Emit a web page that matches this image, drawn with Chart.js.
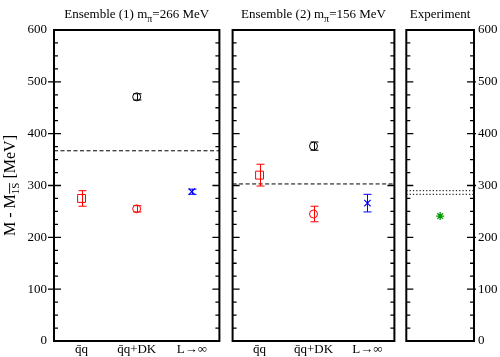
<!DOCTYPE html>
<html><head><meta charset="utf-8">
<script src="https://cdn.jsdelivr.net/npm/chart.js@4"></script>
<style>
html,body{margin:0;padding:0;background:#fff;}
#wrap{position:relative;width:500px;height:357px;overflow:hidden;}
.pane{position:absolute;top:0;}
canvas{display:block;}
</style></head><body>
<div id="wrap">
<div class="pane" style="left:0"><canvas id="c1" width="226" height="357"></canvas></div>
<div class="pane" style="left:226px"><canvas id="c2" width="175" height="357"></canvas></div>
<div class="pane" style="left:401px"><canvas id="c3" width="99" height="357"></canvas></div>
</div>
<script>
// ---------- data ----------
const categories = ['q\u0304q', 'q\u0304q+DK', 'L\u2192\u221e'];
const yTickValues = [0, 100, 200, 300, 400, 500, 600];
const ens1Title = ['Ensemble (1) m', '\u03c0', '=266 MeV'];
const ens2Title = ['Ensemble (2) m', '\u03c0', '=156 MeV'];
const expTitle = ['Experiment'];
const yTitle = ['M - M', '1S', ' [MeV]'];

// Ensemble (1), MeV, per category
const ens1Square    = [275, null, null];
const ens1SquareErr = [15, null, null];
const ens1Upper     = [null, 471, null];
const ens1UpperErr  = [null, 6, null];
const ens1Lower     = [null, 255, null];
const ens1LowerErr  = [null, 6, null];
const ens1Inf       = [null, null, 288];
const ens1InfErr    = [null, null, 5];
const ens1Threshold = 367;

// Ensemble (2)
const ens2Square    = [320, null, null];
const ens2SquareErr = [21, null, null];
const ens2Upper     = [null, 376, null];
const ens2UpperErr  = [null, 8, null];
const ens2Lower     = [null, 245, null];
const ens2LowerErr  = [null, 15, null];
const ens2Inf       = [null, null, 266];
const ens2InfErr    = [null, null, 17];
const ens2Threshold = 303;

// Experiment
const expValue      = [241];
const expThresholds = [290, 283];

// ---------- helpers ----------
const FONT = "'Liberation Serif', 'DejaVu Serif', serif";
Chart.defaults.font.family = FONT;
Chart.defaults.font.size = 13;
Chart.defaults.color = '#000';

function pts(vals, errs) {
  return vals.map((v, i) => v == null ? null : {x: i, y: v, e: errs ? errs[i] : 0}).filter(Boolean);
}

function drawRuns(ctx, runs, cx, baseY, size, subSize, subOff) {
  ctx.save();
  ctx.textBaseline = 'alphabetic';
  ctx.textAlign = 'left';
  let w = 0;
  const widths = runs.map(r => {
    ctx.font = (r.sub ? subSize : size) + 'px ' + FONT;
    const m = ctx.measureText(r.t).width;
    w += m; return m;
  });
  let x = cx - w / 2;
  runs.forEach((r, i) => {
    ctx.font = (r.sub ? subSize : size) + 'px ' + FONT;
    const y = baseY + (r.sub ? subOff : 0);
    ctx.fillText(r.t, x, y);
    if (r.over) {
      ctx.beginPath();
      ctx.lineWidth = 0.9;
      const oy = y - subSize * 0.72 - 1.5;
      ctx.moveTo(x + 0.5, oy); ctx.lineTo(x + widths[i] - 0.5, oy);
      ctx.strokeStyle = '#000';
      ctx.stroke();
    }
    x += widths[i];
  });
  ctx.restore();
}

const decorPlugin = {
  id: 'decor',
  afterDatasetsDraw(chart) {
    // error bars
    const {ctx, scales: {y}} = chart;
    ctx.save();
    chart.data.datasets.forEach((ds, di) => {
      if (!ds.errColor) return;
      const meta = chart.getDatasetMeta(di);
      meta.data.forEach((el, i) => {
        const raw = ds.data[i];
        if (!raw || !raw.e) return;
        const x = Math.round(el.x) + 0.5;
        const y1 = y.getPixelForValue(raw.y + raw.e);
        const y2 = y.getPixelForValue(raw.y - raw.e);
        ctx.strokeStyle = ds.errColor;
        ctx.lineWidth = 1;
        ctx.beginPath();
        ctx.moveTo(x, y1); ctx.lineTo(x, y2);
        ctx.moveTo(x - 4, y1); ctx.lineTo(x + 4, y1);
        ctx.moveTo(x - 4, y2); ctx.lineTo(x + 4, y2);
        ctx.stroke();
      });
    });
    ctx.restore();
  },
  afterDraw(chart, args, opts) {
    const {ctx, chartArea: a, scales: {y}} = chart;
    ctx.save();
    ctx.strokeStyle = '#000';
    ctx.lineWidth = 1.3;
    for (let v = 25; v < 600; v += 25) {
      const py = y.getPixelForValue(v);
      const major = v % 100 === 0;
      const L = major ? 7 : 4;
      ctx.beginPath();
      ctx.moveTo(a.left - (major ? (opts.outLeft || 0) : 0), py); ctx.lineTo(a.left + L, py);
      ctx.moveTo(a.right - L, py); ctx.lineTo(a.right + (major ? (opts.outRight || 0) : 0), py);
      ctx.stroke();
    }
    ctx.lineWidth = 2;
    ctx.strokeRect(a.left, a.top, a.right - a.left, a.bottom - a.top);
    ctx.fillStyle = '#000';
    // panel title
    const t = opts.title;
    const runs = t.length === 3 ? [{t: t[0]}, {t: t[1], sub: true}, {t: t[2]}] : [{t: t[0]}];
    drawRuns(ctx, runs, (a.left + a.right) / 2, 18, 13, 10, 3.5);
    // y title
    if (opts.yTitle) {
      ctx.save();
      ctx.translate(15, (a.top + a.bottom) / 2);
      ctx.rotate(-Math.PI / 2);
      const yt = opts.yTitle;
      drawRuns(ctx, [{t: yt[0]}, {t: yt[1], sub: true, over: true}, {t: yt[2]}], 0, 0, 16, 11, 4);
      ctx.restore();
    }
    ctx.restore();
  }
};

function markerSets(sq, sqE, up, upE, lo, loE, inf, infE) {
  return [
    {data: pts(sq, sqE), pointStyle: 'rect', pointRadius: 5.6, borderColor: '#ff0000', backgroundColor: 'rgba(0,0,0,0)', pointBorderWidth: 1, errColor: '#ff0000'},
    {data: pts(up, upE), pointStyle: 'circle', pointRadius: 4, borderColor: '#000000', backgroundColor: 'rgba(0,0,0,0)', pointBorderWidth: 1, errColor: '#000000'},
    {data: pts(lo, loE), pointStyle: 'circle', pointRadius: 4, borderColor: '#ff0000', backgroundColor: 'rgba(0,0,0,0)', pointBorderWidth: 1, errColor: '#ff0000'},
    {data: pts(inf, infE), pointStyle: 'crossRot', pointRadius: 4.5, borderColor: '#0000ff', backgroundColor: 'rgba(0,0,0,0)', pointBorderWidth: 1.2, errColor: '#0000ff'}
  ];
}

function lineSet(v, xmin, xmax, dash) {
  return {data: [{x: xmin, y: v}, {x: xmax, y: v}], showLine: true, borderColor: '#000', borderWidth: 1,
          borderDash: dash, pointRadius: 0, fill: false};
}

function yScale(display, position, width, pad) {
  return {
    type: 'linear', min: 0, max: 600, display: display, position: position,
    afterBuildTicks: s => { s.ticks = yTickValues.map(v => ({value: v})); },
    afterFit: s => { s.width = width; },
    grid: {display: false, drawTicks: false}, border: {display: false},
    ticks: {padding: pad, font: {size: 13}, color: '#000'}
  };
}

function xScale(display, n) {
  return {
    type: 'linear', min: -0.5, max: n - 0.5, display: display,
    afterBuildTicks: s => { s.ticks = categories.slice(0, n).map((_, i) => ({value: i})); },
    afterFit: s => { s.height = 16; },
    grid: {display: false, drawTicks: false}, border: {display: false},
    ticks: {padding: 1, autoSkip: false, maxRotation: 0, font: {size: 13}, color: '#000',
            callback: v => categories[v]}
  };
}

const common = {
  responsive: false, animation: false, devicePixelRatio: 1,
  plugins: {legend: {display: false}, tooltip: {enabled: false}},
  events: []
};

new Chart(document.getElementById('c1'), {
  type: 'scatter',
  data: {datasets: [lineSet(ens1Threshold, -0.5, 2.5, [4, 2.5]),
    ...markerSets(ens1Square, ens1SquareErr, ens1Upper, ens1UpperErr, ens1Lower, ens1LowerErr, ens1Inf, ens1InfErr)]},
  options: {...common,
    layout: {padding: {left: 0, right: 4, top: 30, bottom: 0}},
    scales: {x: xScale(true, 3), y: yScale(true, 'left', 54, 7)},
    plugins: {...common.plugins, decor: {title: ens1Title, yTitle: yTitle, outLeft: 6}}
  },
  plugins: [decorPlugin]
});

new Chart(document.getElementById('c2'), {
  type: 'scatter',
  data: {datasets: [lineSet(ens2Threshold, -0.5, 2.5, [4, 2.5]),
    ...markerSets(ens2Square, ens2SquareErr, ens2Upper, ens2UpperErr, ens2Lower, ens2LowerErr, ens2Inf, ens2InfErr)]},
  options: {...common,
    layout: {padding: {left: 3, right: 4, top: 30, bottom: 0}},
    scales: {x: xScale(true, 3), y: yScale(false, 'left', 0, 0)},
    plugins: {...common.plugins, decor: {title: ens2Title}}
  },
  plugins: [decorPlugin]
});

new Chart(document.getElementById('c3'), {
  type: 'scatter',
  data: {datasets: [
    ...expThresholds.map(v => lineSet(v, -0.5, 0.5, [1.3, 2])),
    {data: pts(expValue), pointStyle: 'star', pointRadius: 4, borderColor: '#009a00', backgroundColor: 'rgba(0,0,0,0)', pointBorderWidth: 1.3}
  ]},
  options: {...common,
    layout: {padding: {left: 3, right: 0, top: 30, bottom: 0}},
    scales: {x: xScale(false, 1), y: yScale(true, 'right', 26, 4)},
    plugins: {...common.plugins, decor: {title: expTitle, outRight: 2}}
  },
  plugins: [decorPlugin]
});
</script>
</body></html>
